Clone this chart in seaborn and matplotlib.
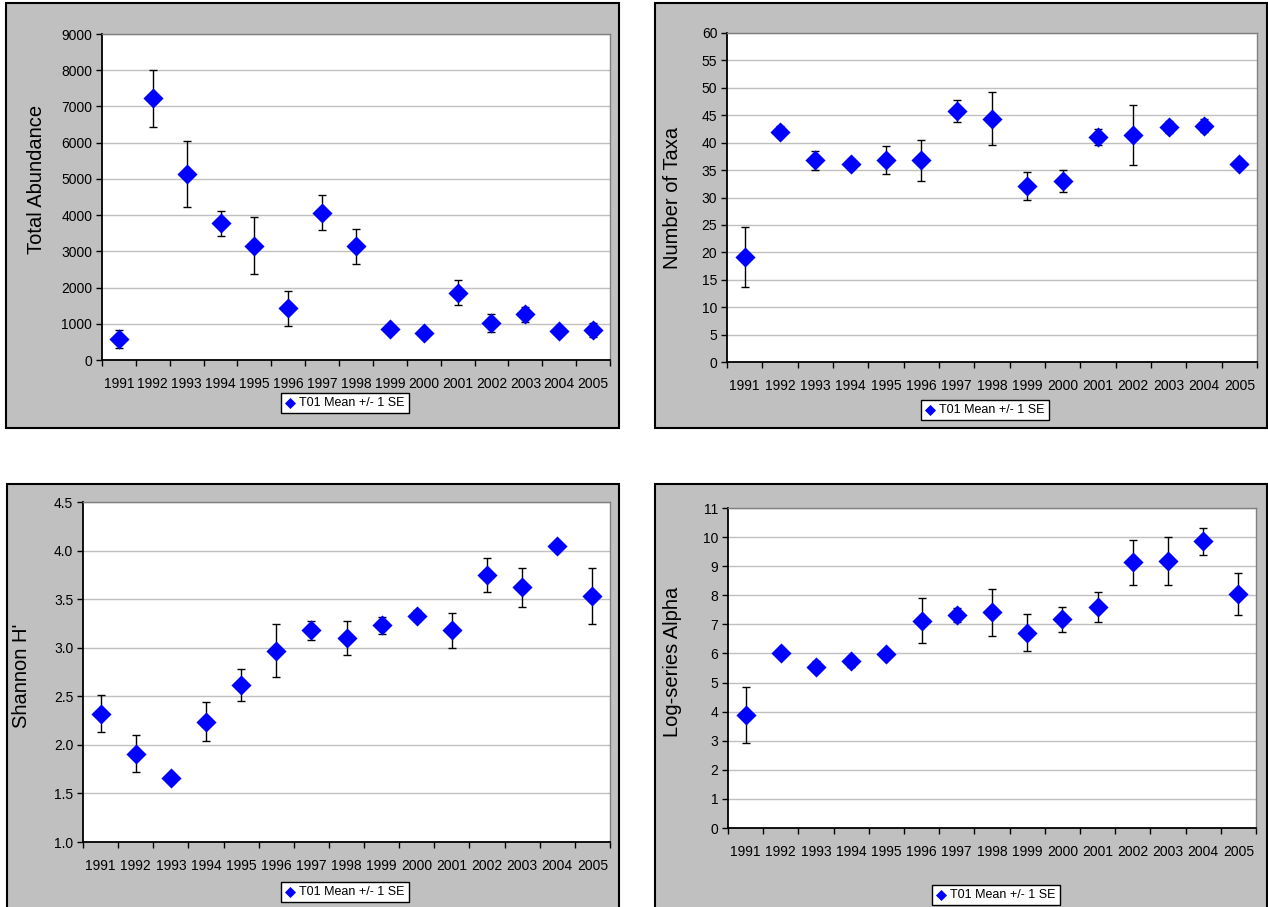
import numpy as np
import matplotlib
matplotlib.use("Agg")
import matplotlib.pyplot as plt
from matplotlib import font_manager
from matplotlib.patches import Rectangle
from matplotlib.ticker import FixedLocator, NullFormatter, FormatStrFormatter
import seaborn as sns

years = ["1991", "1992", "1993", "1994", "1995", "1996", "1997", "1998",
         "1999", "2000", "2001", "2002", "2003", "2004", "2005"]

abund_mean = [580, 7220, 5130, 3770, 3160, 1430, 4070, 3140, 860, 740, 1860, 1020, 1260, 800, 820]
abund_se = [240, 780, 910, 350, 780, 480, 480, 490, 60, 50, 350, 260, 210, 60, 190]

taxa_mean = [19.1, 42.0, 36.8, 36.1, 36.8, 36.8, 45.8, 44.4, 32.1, 33.0, 41.0, 41.4, 42.8, 43.1, 36.1]
taxa_se = [5.5, 1.0, 1.7, 0.9, 2.6, 3.7, 2.0, 4.9, 2.5, 2.0, 1.5, 5.4, 1.1, 1.2, 0.3]

shannon_mean = [2.32, 1.91, 1.66, 2.24, 2.62, 2.97, 3.18, 3.10, 3.23, 3.33, 3.18, 3.75, 3.62, 4.05, 3.53]
shannon_se = [0.19, 0.19, 0.03, 0.20, 0.165, 0.27, 0.10, 0.18, 0.09, 0.06, 0.18, 0.175, 0.20, 0.04, 0.29]

alpha_mean = [3.88, 6.03, 5.55, 5.73, 5.98, 7.13, 7.32, 7.42, 6.72, 7.18, 7.60, 9.13, 9.18, 9.85, 8.03]
alpha_se = [0.96, 0.08, 0.20, 0.18, 0.17, 0.77, 0.23, 0.81, 0.62, 0.43, 0.52, 0.78, 0.82, 0.45, 0.72]

legend_label = "T01 Mean +/- 1 SE"

sns.set_style("white")
plt.rcParams["font.family"] = ["Liberation Sans", "DejaVu Sans"]

# tick labels in the original are a condensed face
names = {f.name for f in font_manager.fontManager.ttflist}
if "Liberation Sans Narrow" in names:
    tick_font, tick_size = "Liberation Sans Narrow", 11.5
else:
    tick_font, tick_size = "Liberation Sans", 10

W, H = 1268, 907
fig = plt.figure(figsize=(W / 100, H / 100), dpi=100)
fig.patch.set_facecolor("white")


def fx(px):
    return px / W


def fy(py):
    return 1 - py / H


# pixel layout: gray frame, plot area, y-label (x centre, y fraction), legend centre
panels = [
    dict(mean=abund_mean, se=abund_se, ylabel="Total Abundance", ylim=(0, 9000), step=1000, fmt="%d",
         box=(6, 3, 619, 428), plot=(102, 34, 610, 360), ylab=(37, 0.555), leg=(345, 403)),
    dict(mean=taxa_mean, se=taxa_se, ylabel="Number of Taxa", ylim=(0, 60), step=5, fmt="%d",
         box=(655, 3, 1267, 428), plot=(727, 33, 1257, 362), ylab=(672, 0.5), leg=(985, 410)),
    dict(mean=shannon_mean, se=shannon_se, ylabel="Shannon H'", ylim=(1.0, 4.5), step=0.5, fmt="%.1f",
         box=(7, 484, 619, 915), plot=(83, 502, 610, 842), ylab=(22, 0.49), leg=(345, 892)),
    dict(mean=alpha_mean, se=alpha_se, ylabel="Log-series Alpha", ylim=(0, 11), step=1, fmt="%d",
         box=(655, 484, 1267, 915), plot=(728, 508, 1256, 828), ylab=(672, 0.52), leg=(996, 895)),
]

pos = np.arange(len(years))

for p in panels:
    bx0, by0, bx1, by1 = p["box"]
    fig.patches.append(Rectangle((fx(bx0), fy(by1)), fx(bx1) - fx(bx0), fy(by0) - fy(by1),
                                 transform=fig.transFigure, facecolor="#c0c0c0",
                                 edgecolor="black", linewidth=1.5, zorder=-5))
    px0, py0, px1, py1 = p["plot"]
    ax = fig.add_axes([fx(px0), fy(py1), fx(px1) - fx(px0), fy(py0) - fy(py1)], zorder=2)
    ax.set_facecolor("white")

    ax.errorbar(pos, p["mean"], yerr=p["se"], fmt="none", ecolor="black",
                elinewidth=1, capsize=3.2, capthick=1, zorder=2)
    sns.scatterplot(x=pos, y=p["mean"], marker="D", s=105, color="#0000ff",
                    edgecolor="#0000ff", linewidth=0, ax=ax, zorder=3, label=legend_label)

    lo, hi = p["ylim"]
    ax.set_ylim(lo, hi)
    ax.set_yticks(np.arange(lo, hi + p["step"] / 2, p["step"]))
    ax.yaxis.set_major_formatter(FormatStrFormatter(p["fmt"]))
    ax.yaxis.grid(True, color="#c0c0c0", linewidth=1)
    ax.set_axisbelow(True)

    ax.set_xlim(-0.5, len(years) - 0.5)
    ax.xaxis.set_major_locator(FixedLocator(np.arange(-0.5, len(years), 1)))
    ax.xaxis.set_major_formatter(NullFormatter())
    ax.xaxis.set_minor_locator(FixedLocator(pos))
    ax.set_xticklabels(years, minor=True)

    ax.tick_params(axis="x", which="major", length=4, width=1, color="black", direction="out", bottom=True)
    ax.tick_params(axis="x", which="minor", length=0, pad=12, labelcolor="black", bottom=True)
    ax.tick_params(axis="y", which="major", length=4, width=1, color="black", direction="out",
                   pad=3, labelcolor="black", left=True)
    for t in ax.get_xticklabels(minor=True) + ax.get_yticklabels():
        t.set_fontfamily(tick_font)
        t.set_fontsize(tick_size)

    for side in ["left", "bottom"]:
        ax.spines[side].set_color("black")
        ax.spines[side].set_linewidth(1.3)
    for side in ["top", "right"]:
        ax.spines[side].set_color("#808080")
        ax.spines[side].set_linewidth(1)

    ax.set_xlabel("")
    ax.set_ylabel(p["ylabel"], fontsize=14.5, color="black", va="center")
    ax.yaxis.set_label_coords((p["ylab"][0] - px0) / (px1 - px0), p["ylab"][1])

    lx, ly = p["leg"]
    ax.legend(loc="center", bbox_to_anchor=(fx(lx), fy(ly)), bbox_transform=fig.transFigure,
              frameon=True, fancybox=False, edgecolor="black", framealpha=1, fontsize=9,
              markerscale=0.55, handlelength=0.8, handletextpad=0.3, borderpad=0.35,
              borderaxespad=0, labelcolor="black")

fig.savefig("out.png", dpi=100)
